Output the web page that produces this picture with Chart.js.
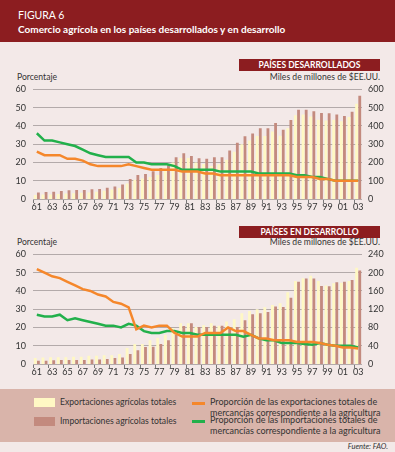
<!DOCTYPE html>
<html>
<head>
<meta charset="utf-8">
<script src="https://cdn.jsdelivr.net/npm/chart.js@4"></script>
<style>
  body { margin: 0; width: 395px; height: 452px; background: #f3e9e8; font-family: Lato, sans-serif; color: #333; position: relative; overflow: hidden; }
  .abs { position: absolute; white-space: nowrap; }
  #header { left: 0; top: 0; width: 395px; height: 42px; background: #8c1d20; }
  .tag { background: #8c1d20; color: #fff; font-weight: bold; font-size: 8.5px; text-align: center; line-height: 12px; }
  .small { font-size: 8.6px; }
  .lg2 { font-size: 9px; line-height: 10.5px; }
  #legend { left: 0; top: 389px; width: 395px; height: 53px; background: #d9b4aa; }
  .box { width: 21px; height: 9px; }
  .ln { width: 13px; height: 2.5px; }
</style>
</head>
<body>
<div id="header" class="abs"></div>
<div class="abs" style="left:18px;top:9px;font-size:10.5px;color:#fff;">FIGURA 6</div>
<div class="abs" style="left:18px;top:23px;font-size:10px;font-weight:bold;color:#fff;">Comercio agrícola en los países desarrollados y en desarrollo</div>

<div class="abs tag" style="left:239px;top:59px;width:141px;height:12px;">PAÍSES DESARROLLADOS</div>
<div class="abs small" style="right:15px;top:72px;">Miles de millones de $EE.UU.</div>
<div class="abs small" style="left:17px;top:72px;">Porcentaje</div>
<div class="abs" style="left:0;top:77px;width:395px;height:138px;"><canvas id="top"></canvas></div>

<div class="abs tag" style="left:239px;top:226px;width:141px;height:12px;">PAÍSES EN DESARROLLO</div>
<div class="abs small" style="right:15px;top:237px;">Miles de millones de $EE.UU.</div>
<div class="abs small" style="left:17px;top:237px;">Porcentaje</div>
<div class="abs" style="left:0;top:242px;width:395px;height:138px;"><canvas id="bottom"></canvas></div>

<div id="legend" class="abs"></div>
<div class="abs box" style="left:34px;top:398px;background:#fff8c4;"></div>
<div class="abs small" style="left:60px;top:397px;">Exportaciones agrícolas totales</div>
<div class="abs box" style="left:34px;top:417px;background:#c38a7e;"></div>
<div class="abs small" style="left:60px;top:416px;">Importaciones agrícolas totales</div>
<div class="abs ln" style="left:192px;top:402px;background:#f5872b;"></div>
<div class="abs lg2" style="left:210px;top:397px;">Proporción de las exportaciones totales de<br>mercancías correspondiente a la agricultura</div>
<div class="abs ln" style="left:192px;top:420px;background:#22b04b;"></div>
<div class="abs lg2" style="left:210px;top:415px;">Proporción de las importaciones totales de<br>mercancías correspondiente a la agricultura</div>
<div class="abs" style="right:7px;top:442px;font-size:7.5px;font-style:italic;">Fuente: FAO.</div>

<script>
var years = ["61","62","63","64","65","66","67","68","69","70","71","72","73","74","75","76","77","78","79","80",
  "81","82","83","84","85","86","87","88","89","90","91","92","93","94","95","96","97","98","99","00","01","02","03"];

// Países desarrollados
var devExports = [22,24,25,28,30,32,34,36,40,45,52,60,85,105,112,120,132,160,200,225,
  225,200,192,180,190,215,258,300,320,345,345,370,346,388,458,462,451,434,430,434,425,449,522];
var devImports = [35,38,40,44,48,49,49,53,55,62,68,79,110,132,137,152,170,185,229,251,
  236,223,220,229,229,266,308,344,359,388,388,416,379,432,488,489,480,471,469,463,455,478,565];
var devExpShare = [26,24,24,24,22,22,21,19,18,18,18,18,19,18,17,16,16,16,16,15,
  15,15,14,14,13,13,13,13,13,13,13,13,13,13,12,12,12,11,11,10,10,10,10];
var devImpShare = [36,32,32,31,30,29,27,25,24,23,23,23,23,20,20,19,19,19,18,16,
  16,16,16,16,15,15,15,15,15,14,14,14,14,14,13,13,12,12,11,10,10,10,10];

// Países en desarrollo
var dvgExports = [13,14,15,15,15,16,16,18,18,19,19,22,35,44,44,52,57,64,79,89,
  89,81,85,89,84,93,98,111,116,120,124,129,133,157,182,188,193,182,172,177,178,182,211];
var dvgImports = [7,7,8,9,9,9,9,10,10,11,13,14,22,30,37,38,44,52,64,83,
  89,81,81,84,84,80,81,96,109,111,114,126,125,145,180,187,187,171,170,179,180,184,205];
var dvgExpShare = [52,50,48,47,45,43,41,40,38,37,34,33,31,19,21,20,21,21,17,15,
  15,15,17,17,17,20,18,18,16,14,14,13,13,13,12,12,12,11.5,10.5,10,9,9,8.5];
var dvgImpShare = [27,26,26,27,24,25,24,23,22,21,21,20,22,21,18,17,17,18,18,17,
  17,16,16,16,16,16,16,15,16,14,13,13,11.5,11.5,11.5,11,10.5,11.5,10.5,10,10,10,9];

var tickFont = { family: "Lato", size: 9 };

function makeChart(id, exp, imp, expShare, impShare, rightMax, rightStep) {
  return new Chart(document.getElementById(id), {
    type: "bar",
    data: {
      labels: years,
      datasets: [
        { type: "line", data: expShare, yAxisID: "y", borderColor: "#f5872b", borderWidth: 2.5, pointRadius: 0, order: 0 },
        { type: "line", data: impShare, yAxisID: "y", borderColor: "#22b04b", borderWidth: 2.5, pointRadius: 0, order: 1 },
        { data: exp, yAxisID: "y1", backgroundColor: "#fff8c4", order: 2, categoryPercentage: 0.82, barPercentage: 0.9 },
        { data: imp, yAxisID: "y1", backgroundColor: "#c38a7e", order: 2, categoryPercentage: 0.82, barPercentage: 0.9 },
      ],
    },
    options: {
      responsive: true,
      maintainAspectRatio: false,
      animation: false,
      layout: { padding: 0 },
      plugins: { legend: { display: false }, tooltip: { enabled: false } },
      scales: {
        x: {
          border: { display: false },
          grid: {
            drawOnChartArea: false,
            tickLength: 4,
            color: (ctx) => (ctx.index % 2 === 0 ? "#777" : "transparent"),
          },
          ticks: {
            autoSkip: false,
            maxRotation: 0,
            padding: -1,
            color: "#333",
            font: tickFont,
            callback: function (v, i) {
              return i % 2 === 0 ? this.getLabelForValue(v) : "";
            },
          },
          afterFit: (s) => { s.height = 16; },
        },
        y: {
          position: "left",
          min: 0,
          max: 60,
          border: { display: false },
          grid: { color: "#b3aaaa", drawTicks: false },
          ticks: { stepSize: 10, padding: 7, color: "#333", font: tickFont },
          afterFit: (s) => { s.width = 33; },
        },
        y1: {
          position: "right",
          min: 0,
          max: rightMax,
          border: { display: false },
          grid: { display: false, drawTicks: false },
          ticks: { stepSize: rightStep, padding: 6, color: "#333", font: tickFont },
          afterFit: (s) => { s.width = 33; },
        },
      },
    },
  });
}

makeChart("top", devExports, devImports, devExpShare, devImpShare, 600, 100);
makeChart("bottom", dvgExports, dvgImports, dvgExpShare, dvgImpShare, 240, 40);
</script>
</body>
</html>
